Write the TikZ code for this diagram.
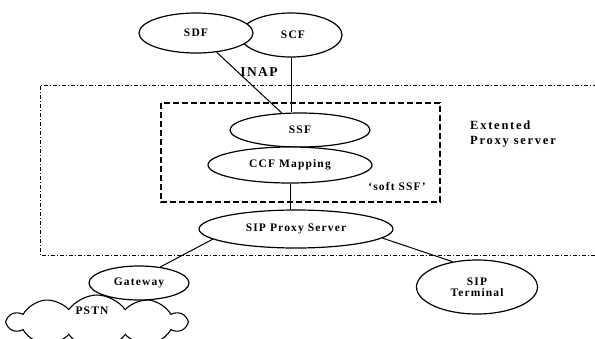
\documentclass[tikz,border=0pt]{standalone}
\usepackage{fontspec}
\setmainfont{Liberation Serif}[LetterSpace=10]
\usetikzlibrary{shapes.geometric,shapes.symbols}
\begin{document}
\begin{tikzpicture}[x=1pt,y=-1pt,
  ell/.style={ellipse,draw,line width=1.2pt,fill=white,inner sep=0pt,font=\fontsize{11.5}{13}\selectfont\bfseries},
  lbl/.style={font=\fontsize{11.5}{13}\selectfont\bfseries,inner sep=0pt},
  conn/.style={line width=1pt}]
\useasboundingbox (0,0) rectangle (595,338);
\clip (0,0) rectangle (595,338);
% outer dash-dot region
\draw[line width=1pt,dash pattern=on 4pt off 2pt on 1pt off 2pt] (597,85) -- (40,85) -- (40,255) -- (597,255);
% inner dashed box
\draw[line width=1.1pt,dash pattern=on 6pt off 3pt] (161,103) rectangle (440,202);
% cloud
\node[cloud,draw,line width=1.1pt,cloud puffs=10,cloud puff arc=110,aspect=3.4,minimum width=178pt,minimum height=54pt,inner sep=0pt] (pstn) at (97,322) {};
\node[lbl] (pstnl) at (92,311) {PSTN};
% ellipses
\node[ell,minimum width=102pt,minimum height=44pt] (scf) at (291,35) {\hspace*{4pt}SCF};
\node[ell,minimum width=114pt,minimum height=40pt] (sdf) at (196,33) {SDF};
\node[ell,minimum width=140pt,minimum height=34pt] (ssf) at (300,130) {SSF};
\node[ell,minimum width=164pt,minimum height=36pt] (ccf) at (290,165) {CCF Mapping};
\node[ell,minimum width=194pt,minimum height=38pt] (sip) at (296,229) {SIP Proxy Server};
\node[ell,minimum width=100pt,minimum height=34pt] (gw) at (139,283) {Gateway};
\node[ell,minimum width=121pt,minimum height=54pt,align=center] (term) at (477,287) {SIP\\[-2pt]Terminal};
% connectors
\draw[conn] (sdf) -- (ssf);
\draw[conn] (scf.south) -- (scf.south |- ssf.north);
\draw[conn] (ccf.south) -- (ccf.south |- sip.north);
\draw[conn] (gw.37) -- (sip.187);
\draw[conn] (sip.-6) -- (term.134);
% labels
\node[lbl,font=\fontsize{13.5}{15}\selectfont\bfseries] (inap) at (259,72) {INAP};
\node[lbl] (soft) at (397,187) {`soft SSF'};
\node[lbl,align=left,anchor=west,font=\fontsize{12.5}{14}\selectfont\bfseries\addfontfeature{LetterSpace=14}] (ext) at (470,134) {Extented\\[1pt]Proxy server};
\end{tikzpicture}
\end{document}
